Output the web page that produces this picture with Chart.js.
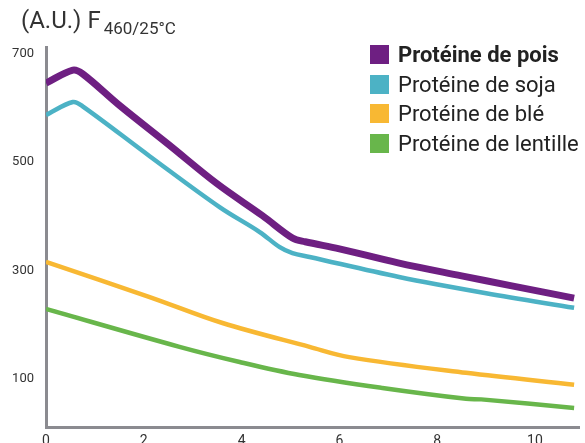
<!DOCTYPE html>
<html>
<head>
<meta charset="utf-8">
<script src="https://cdn.jsdelivr.net/npm/chart.js@4/dist/chart.umd.min.js"></script>
<style>
  html, body { margin: 0; padding: 0; background: #fff; overflow: hidden; }
  #wrap { position: absolute; left: 0; top: 0; width: 585px; height: 455px; }
  #title { position: absolute; left: 21px; top: 6px; font-family: Roboto, sans-serif; color: #333; font-size: 24px; white-space: nowrap; }
  #title sub { font-size: 17px; vertical-align: -6px; margin-left: 3px; }
  #legend { position: absolute; left: 370px; top: 45px; font-family: Roboto, sans-serif; font-size: 22px; color: #222; }
  #legend div { height: 29.5px; display: flex; align-items: flex-start; white-space: nowrap; }
  #legend span.box { width: 19px; height: 19px; display: inline-block; margin-right: 9px; }
  #legend span.lbl { line-height: 19px; }
</style>
</head>
<body>
<div id="wrap">
  <canvas id="chart" width="585" height="455"></canvas>
  <div id="title">(A.U.) F<sub>460/25°C</sub></div>
  <div id="legend"></div>
</div>
<script>
// series: [x, y]
var pois = [[0,646],[0.55,670],[0.75,663],[1.5,605],[2.5,533],[3.5,460],[4.43,401],[5.04,360],[5.3,353],[6,340],[7.2,314],[8.5,290],[9.5,272],[10.8,249]];
var soja = [[0,587],[0.55,611],[0.75,603],[2.12,511],[3.55,417],[4.37,371],[4.78,343],[5.04,332],[5.39,325],[7.22,288],[9,258],[10.8,231]];
var ble = [[0,316],[2.12,251],[3.61,203],[5.39,159],[6.2,140],[8.59,111],[10.8,89]];
var lentille = [[0,229],[2.73,159],[3.96,131],[5.18,107],[6.88,83],[8.59,63],[8.9,62],[10.8,46]];

var labels = ['Protéine de pois', 'Protéine de soja', 'Protéine de blé', 'Protéine de lentille'];
var colors = ['#6e1f82', '#4cb2c5', '#f8b833', '#68b64b'];
var widths = [7, 4.5, 4.5, 4.5];
var xTicks = [0, 2, 4, 6, 8, 10];
var yTicks = [100, 300, 500, 700];

function pts(arr) {
    return arr.map(function(p) { return { x: p[0], y: p[1] }; });
}

var series = [pois, soja, ble, lentille];
var datasets = series.map(function(s, i) {
    return {
        label: labels[i],
        data: pts(s),
        borderColor: colors[i],
        backgroundColor: colors[i],
        borderWidth: widths[i],
        pointRadius: 0,
        tension: 0.35,
        fill: false
    };
});

var ctx = document.getElementById('chart');
var myChart = new Chart(ctx, {
    type: 'line',
    data: { datasets: datasets },
    options: {
        responsive: false,
        animation: false,
        layout: { padding: { top: 47, right: 6, bottom: 8, left: 0 } },
        plugins: { legend: { display: false }, tooltip: { enabled: false } },
        scales: {
            x: {
                type: 'linear',
                min: 0,
                max: 10.9,
                grid: { display: false, drawTicks: false },
                border: { display: true, color: '#8b8b90', width: 3 },
                afterBuildTicks: function(scale) {
                    scale.ticks = xTicks.map(function(v) { return { value: v }; });
                },
                ticks: {
                    padding: 6,
                    color: '#333',
                    font: { family: 'Roboto', size: 14 }
                },
                afterFit: function(scale) { scale.height = 20; }
            },
            y: {
                min: 11,
                max: 712.6,
                grid: { display: false, drawTicks: false },
                border: { display: true, color: '#8b8b90', width: 3 },
                afterBuildTicks: function(scale) {
                    scale.ticks = yTicks.map(function(v) { return { value: v }; });
                },
                ticks: {
                    padding: 12,
                    color: '#333',
                    font: { family: 'Roboto', size: 13 }
                },
                afterFit: function(scale) { scale.width = 46; }
            }
        }
    }
});

// legend as html, built from the datasets
var leg = document.getElementById('legend');
myChart.data.datasets.forEach(function(ds, i) {
    var row = document.createElement('div');
    row.innerHTML = '<span class="box" style="background:' + ds.borderColor + '"></span>' +
        '<span class="lbl"' + (i === 0 ? ' style="font-weight:bold"' : '') + '>' + ds.label + '</span>';
    leg.appendChild(row);
});
</script>
</body>
</html>
